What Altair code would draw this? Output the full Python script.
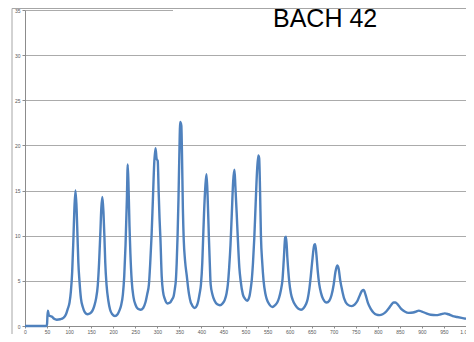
import altair as alt
import pandas as pd

# Spectrum trace
xs = [0, 49, 50, 51, 52, 54, 57, 62, 66, 72, 80, 87, 93, 97, 101, 104, 107, 110, 112, 114.5, 117, 119, 121, 123.5,
      127, 131, 136, 142, 148, 153, 157, 161, 165, 168, 171, 173, 175.5, 178, 180, 182, 185, 189, 193, 198, 204,
      210, 214, 218, 222, 225, 228, 231, 233, 235, 237, 239, 242, 246, 251, 256, 262, 268, 273, 277, 281, 284,
      287, 290, 293, 296, 298.5, 301, 303, 305, 307, 310, 313, 317, 323, 329, 333, 337, 340, 342, 344, 346, 348,
      350, 352, 354.5, 356, 358, 360, 363, 367, 370, 372, 376, 378, 380, 385, 390, 393, 396, 399, 402, 404, 406,
      409, 411.5, 414, 417, 419, 421, 425, 430, 436, 442, 448, 453, 457, 460, 463, 466, 469, 472, 475, 477, 480,
      482.5, 486, 489, 494, 499, 504, 509, 512, 514, 517, 520, 523, 526, 529, 531, 533, 535, 538, 541, 545, 548,
      554, 561, 567, 572, 576, 580, 584, 587, 590, 592, 595, 599, 603, 607, 613, 620, 626, 632, 637, 641, 645,
      648, 652, 656, 658, 661, 664, 667, 671, 676, 684, 690, 695, 700, 704, 708, 711, 715, 719, 724, 731, 741,
      748, 754, 760, 764, 768, 772, 778, 784, 790, 797, 804, 811, 817, 824, 830, 836, 840, 845, 853, 861, 870,
      880, 887, 893, 900, 910, 920, 932, 943, 952, 960, 970, 980, 990, 1000]
ys = [0, 0, 0.2, 1.2, 1.7, 1.2, 1.1, 1.0, 0.8, 0.7, 0.75, 0.9, 1.3, 1.9, 2.6, 3.8, 6, 10, 13, 15.0, 13, 10, 7, 5,
      3, 2.1, 1.5, 1.3, 1.4, 1.7, 2.2, 3.0, 4.5, 7, 10.5, 13, 14.3, 12.5, 10, 7, 4.5, 2.8, 1.8, 1.3, 1.1,
      1.3, 1.7, 2.3, 3.5, 5.5, 9, 14, 17.9, 15, 11, 8, 5, 3.2, 2.3, 1.9, 1.8, 2.0, 2.6, 3.5, 4.6, 7,
      10, 14, 18, 19.7, 18.5, 18.3, 15, 12, 9.8, 5.5, 3.8, 3.0, 2.5, 2.6, 2.9, 3.3, 4.2, 5, 7, 10, 14,
      19, 22.6, 22.2, 19, 13, 9.5, 7.2, 5.5, 4.2, 3.5, 2.6, 2.4, 2.2, 2.0, 2.3, 2.8, 3.6, 4.6, 7, 9.8, 12.5,
      15.5, 16.8, 14.5, 9.8, 7, 4.6, 3.5, 2.8, 2.4, 2.3, 2.5, 2.9, 3.6, 4.6, 6.5, 9, 12.5, 16, 17.3, 15.5, 12.5,
      9.8, 6.5, 5, 3.5, 3.0, 2.8, 3.3, 4.2, 5, 7, 9.8, 13.5, 17, 18.9, 18.6, 15, 10, 7, 5, 3.6, 3.0,
      2.4, 2.1, 2.3, 2.6, 3.1, 3.9, 5.2, 7.5, 9.8, 9.9, 7.5, 5, 3.6, 2.9, 2.3, 1.9, 1.8, 2.0, 2.4, 3.0, 4.2,
      5.5, 7.5, 9.0, 9.05, 7.8, 6, 4.7, 3.7, 3.0, 2.6, 2.8, 3.4, 4.6, 6, 6.7, 6.4, 5, 4, 3.0, 2.4, 2.2,
      2.4, 2.8, 3.5, 3.9, 4.0, 3.5, 2.5, 1.9, 1.5, 1.25, 1.2, 1.3, 1.5, 1.9, 2.3, 2.6, 2.6, 2.4, 1.9, 1.6, 1.45,
      1.5, 1.6, 1.7, 1.6, 1.4, 1.25, 1.2, 1.3, 1.4, 1.3, 1.1, 1.0, 0.9, 0.8]

x_ticks = list(range(0, 1001, 50))
y_ticks = list(range(0, 36, 5))
title_text = ["BACH 42"]

df = pd.DataFrame({"x": xs, "y": ys})

FONT = "Liberation Sans"
W, H = 441, 316

xscale = alt.Scale(domain=[0, 1000], nice=False, zero=False)
yscale = alt.Scale(domain=[0, 35], nice=False)

line = alt.Chart(df).mark_line(color="#4F81BD", strokeWidth=2.4, interpolate="monotone").encode(
    x=alt.X("x:Q", scale=xscale,
            axis=alt.Axis(values=x_ticks, title=None, grid=False, domainColor="#8C8C8C",
                          tickColor="#8C8C8C", tickSize=2, labelFontSize=5, labelColor="#595959",
                          labelFont=FONT, labelPadding=1, labelFlush=False)),
    y=alt.Y("y:Q", scale=yscale,
            axis=alt.Axis(values=y_ticks, title=None, grid=True, gridColor="#ABABAB", gridWidth=1,
                          domainColor="#8C8C8C", tickColor="#8C8C8C", tickSize=3, labelFontSize=5,
                          labelColor="#595959", labelFont=FONT, labelPadding=2)),
)

# white title box hiding the top gridline behind the title
box = alt.Chart(pd.DataFrame({"t": title_text})).mark_rect(fill="white").encode(
    x=alt.value(148), x2=alt.value(W), y=alt.value(-1), y2=alt.value(25)
)

title = alt.Chart(pd.DataFrame({"t": title_text})).mark_text(
    font=FONT, fontSize=25, color="#000000", align="left", baseline="alphabetic"
).encode(text="t:N", x=alt.value(248), y=alt.value(17))

frame_v = alt.Chart(pd.DataFrame({"t": title_text})).mark_rule(color="#A6A6A6", strokeWidth=1).encode(
    x=alt.value(-13), y=alt.value(-1.5), y2=alt.value(340)
)
frame_h = alt.Chart(pd.DataFrame({"t": title_text})).mark_rule(color="#A6A6A6", strokeWidth=1).encode(
    x=alt.value(-13), x2=alt.value(W), y=alt.value(-1.5)
)

chart = alt.layer(line, box, title, frame_v, frame_h).properties(
    width=W, height=H,
    autosize=alt.AutoSizeParams(type="none"),
    padding={"left": 17, "top": 2, "right": 0, "bottom": 8},
).configure_view(stroke=None)

chart.save("out.html", embed_options={"renderer": "svg", "actions": False})
